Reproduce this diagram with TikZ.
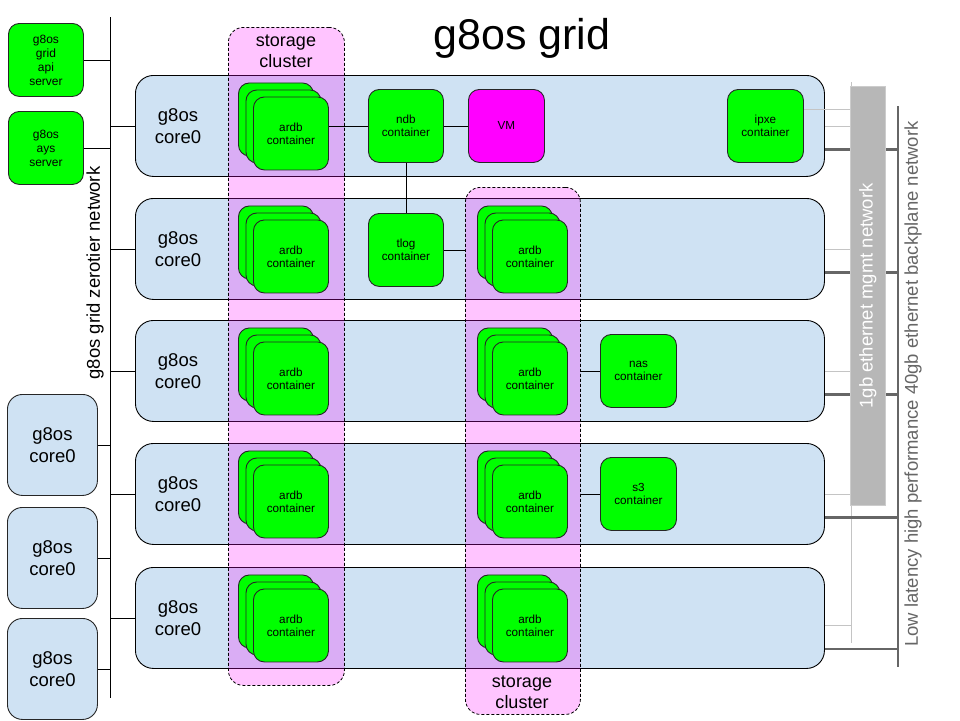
\documentclass[tikz,border=0pt]{standalone}
\usepackage{fontspec}
\setmainfont{Liberation Sans}
\definecolor{cgreen}{HTML}{00FF00}
\definecolor{cblue}{HTML}{CFE2F3}
\definecolor{cmag}{HTML}{FF00FF}
\definecolor{cbar}{HTML}{B7B7B7}
\definecolor{cbaredge}{HTML}{CCCCCC}
\definecolor{cthin}{HTML}{C4C4C4}
\definecolor{cthick}{HTML}{666666}
\newcommand{\ctfont}{\fontsize{11.7}{13}\selectfont}
\newcommand{\ardbstack}[3]{%
  \node[cont] (#1b) at (#2,{#3+7.5}) {};
  \node[cont] (#1m) at ({#2+7.5},{#3+14.5}) {};
  \node[cont] (#1) at ({#2+15},{#3+21.5}) {ardb\\container};
}
\begin{document}
\begin{tikzpicture}[x=1pt,y=-1pt,
  core/.style={draw=black, line width=0.9pt, fill=cblue, rounded corners=18pt,
    minimum width=689pt, minimum height=101pt, inner sep=0pt, anchor=north west},
  lcore/.style={draw=black!85, line width=0.9pt, fill=cblue, rounded corners=15pt,
    minimum width=90pt, minimum height=101pt, inner sep=0pt, anchor=north west,
    align=center, font=\fontsize{18.5}{22}\selectfont},
  coretext/.style={align=center, font=\fontsize{18.5}{22}\selectfont, inner sep=0pt},
  cont/.style={draw=black!85, line width=0.9pt, fill=cgreen, rounded corners=11pt,
    minimum width=75pt, minimum height=73pt, inner sep=0pt, anchor=north west,
    align=center, font=\ctfont},
  srv/.style={draw=black!85, line width=0.9pt, fill=cgreen, rounded corners=11pt,
    minimum width=75pt, minimum height=73pt, inner sep=0pt, anchor=north west,
    align=center, font=\fontsize{12}{14}\selectfont},
  cluster/.style={draw=black, line width=0.8pt, dash pattern=on 3pt off 2pt,
    fill=cmag, fill opacity=0.23, draw opacity=1, rounded corners=15pt,
    inner sep=0pt, anchor=north west},
  cltext/.style={align=center, font=\fontsize{18}{21}\selectfont, inner sep=0pt},
  conn/.style={draw=black, line width=0.9pt},
  thin/.style={draw=cthin, line width=0.9pt},
  thick/.style={draw=cthick, line width=2.8pt}
]
\useasboundingbox (0,0) rectangle (960,720);

% title
\node[font=\fontsize{43}{46}\selectfont, inner sep=0pt] (title) at (522,38) {g8os grid};

% zerotier network
\coordinate (zt1) at (110,17);
\coordinate (zt2) at (110,698);
\draw[conn] (zt1) -- (zt2);
\node[rotate=90, font=\fontsize{18.5}{20}\selectfont, inner sep=0pt] (ztl) at (95,273) {g8os grid zerotier network};

% left servers
\node[srv] (api) at (8,23) {g8os\\grid\\api\\server};
\node[srv] (ays) at (8,111) {g8os\\ays\\server};
\draw[conn] (api.east) -- (api.east -| zt1);
\draw[conn] (ays.east) -- (ays.east -| zt1);

% left core boxes
\node[lcore] (l1) at (7,394) {g8os\\core0};
\node[lcore] (l2) at (7,507) {g8os\\core0};
\node[lcore] (l3) at (7,618) {g8os\\core0};
\foreach \n in {l1,l2,l3} { \draw[conn] (\n.east) -- (\n.east -| zt1); }

% backplane network
\coordinate (bp1) at (898,106);
\coordinate (bp2) at (898,667);
\draw[thick, line width=2.6pt] (bp1) -- (bp2);

% mgmt network line
\coordinate (mg1) at (851,82);
\coordinate (mg2) at (851,643);
\draw[thin] (mg1) -- (mg2);

% core rows
\foreach \i/\t in {1/75,2/198,3/320,4/443,5/567} {
  \node[core] (r\i) at (135,\t) {};
  \node[coretext] (r\i t) at (178,{\t+51}) {g8os\\core0};
  \draw[conn] (r\i.west) -- (r\i.west -| zt1);
}
\foreach \i in {1,2,3,4} {
  \draw[thick] ([yshift=-23.5pt]r\i.east) -- ([yshift=-23.5pt]r\i.east -| bp1);
  \draw[thin] (r\i.east) -- (r\i.east -| mg1);
}
\draw[thick] ([yshift=-31pt]r5.east) -- ([yshift=-31pt]r5.east -| bp1);
\draw[thin] ([yshift=-7pt]r5.east) -- ([yshift=-7pt]r5.east -| mg1);

% storage clusters
\node[cluster, minimum width=116pt, minimum height=658pt] (cl1) at (228,27) {};
\node[cluster, minimum width=115pt, minimum height=527pt] (cl2) at (465,187) {};
\node[cltext] (cl1t) at (286,51) {storage\\cluster};
\node[cltext] (cl2t) at (522,692) {storage\\cluster};

% ardb stacks
\foreach \i/\t in {1/75,2/198,3/320,4/443,5/567} { \ardbstack{a\i}{238}{\t} }
\foreach \i/\t in {2/198,3/320,4/443,5/567} { \ardbstack{b\i}{477}{\t} }

% other containers
\node[cont] (ndb) at (368,89) {ndb\\container};
\node[cont, fill=cmag, minimum width=76pt] (vm) at (468,89) {VM};
\node[cont] (tlog) at (368,213) {tlog\\container};
\node[cont, minimum width=76pt] (ipxe) at (727,89) {ipxe\\container};
\node[cont, minimum width=76pt] (nas) at (600,334) {nas\\container};
\node[cont, minimum width=76pt] (s3) at (600,457) {s3\\container};

\draw[conn] (ndb.west -| a1.east) -- (ndb.west);
\draw[conn] (ndb.east) -- (vm.west);
\draw[conn] (ndb.south) -- (tlog.north);
\draw[conn] (tlog.east) -- (tlog.east -| cl2.west);
\draw[conn] (nas.west -| cl2.east) -- (nas.west);
\draw[conn] (s3.west -| cl2.east) -- (s3.west);
\draw[thin] ([yshift=16.5pt]ipxe.east) -- ([yshift=16.5pt]ipxe.east -| mg1);

% mgmt bar
\node[draw=cbaredge, line width=0.8pt, fill=cbar, minimum width=35pt, minimum height=419pt,
  inner sep=0pt, anchor=north west] (bar) at (850,86) {};
\node[rotate=90, text=white, font=\fontsize{18.5}{20}\selectfont, inner sep=0pt] (barl) at (bar.center) {1gb ethernet mgmt network};

% backplane label
\node[rotate=90, text=cthick, font=\fontsize{18.5}{20}\selectfont, inner sep=0pt] (bpl) at (913,384) {Low latency high performance 40gb ethernet backplane network};
\end{tikzpicture}
\end{document}
